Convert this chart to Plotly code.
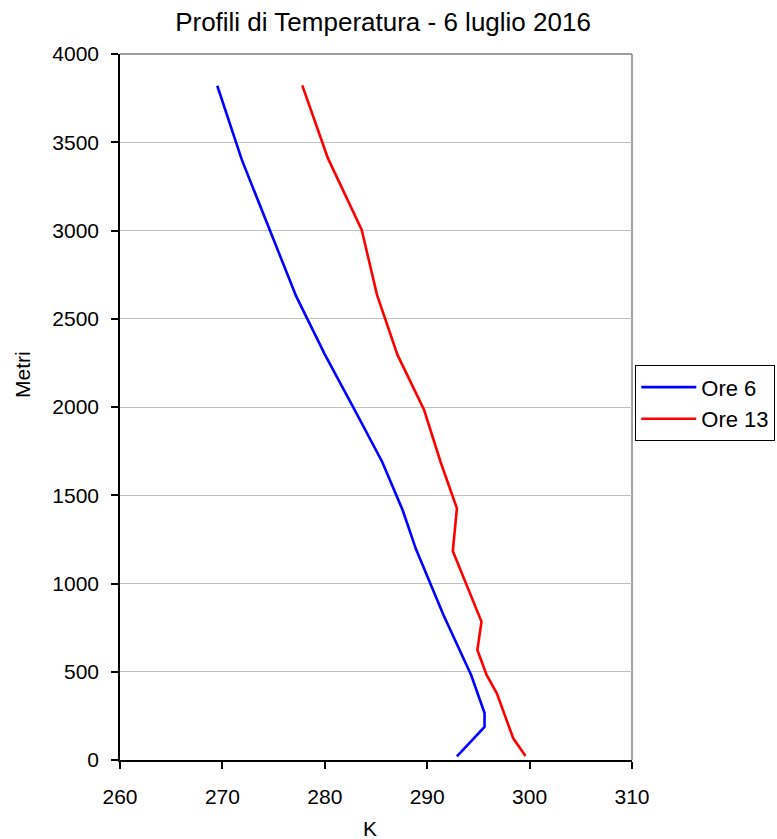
import plotly.graph_objects as go

# Temperature profiles (K) versus height (m), 6 July 2016
ore6_quota = [20, 187, 266, 480, 820, 1195, 1416, 1690, 1985, 2298, 2628, 3005, 3400, 3820]
ore6_temp = [292.9, 295.6, 295.6, 294.3, 291.6, 288.9, 287.6, 285.6, 282.9, 280.0, 277.2, 274.6, 271.9, 269.5]

ore13_quota = [23, 75, 123, 378, 482, 623, 784, 1184, 1426, 1690, 1983, 2295, 2635, 3005, 3410, 3822]
ore13_temp = [299.6, 299.0, 298.4, 296.8, 295.8, 294.9, 295.3, 292.5, 292.9, 291.3, 289.7, 287.1, 285.1, 283.6, 280.3, 277.8]

series_names = ["Ore 6", "Ore 13"]
series_colors = ["#0000ff", "#ff0000"]

x_ticks = [260, 270, 280, 290, 300, 310]
y_ticks = [0, 500, 1000, 1500, 2000, 2500, 3000, 3500, 4000]

W, H = 777, 839
L, R, T, B = 120, 145, 54, 79

FONT = "Liberation Sans, Arial, sans-serif"

fig = go.Figure()
for name, xs, ys, col in zip(series_names, [ore6_temp, ore13_temp],
                             [ore6_quota, ore13_quota], series_colors):
    fig.add_trace(go.Scatter(x=xs, y=ys, mode="lines", name=name,
                             line=dict(color=col, width=2.6)))

fig.update_layout(
    width=W, height=H,
    margin=dict(l=L, r=R, t=T, b=B, autoexpand=False),
    paper_bgcolor="white", plot_bgcolor="white",
    font=dict(family=FONT, color="black", size=21),
    title=dict(text="Profili di Temperatura - 6 luglio 2016",
               x=383 / W, xanchor="center", xref="container",
               y=1 - 22 / H, yanchor="middle", yref="container",
               font=dict(size=26, family=FONT)),
    legend=dict(x=(635 - L) / (W - L - R), xanchor="left",
                y=(H - B - 365) / (H - T - B), yanchor="top",
                bordercolor="black", borderwidth=1.3, bgcolor="white",
                font=dict(size=22, family=FONT),
                itemwidth=55),
    showlegend=True,
)

fig.update_xaxes(range=[260, 310], tickvals=x_ticks, ticktext=[str(v) for v in x_ticks],
                 showgrid=False, zeroline=False,
                 showline=True, linecolor="black", linewidth=1.5,
                 ticks="outside", ticklen=7, tickwidth=1.5, tickcolor="black",
                 ticklabelstandoff=10,
                 tickfont=dict(size=21, family=FONT))
fig.update_yaxes(range=[0, 4000], tickvals=y_ticks, ticktext=[str(v) for v in y_ticks],
                 showgrid=True, gridcolor="#c0c0c0", gridwidth=1.3, zeroline=False,
                 showline=True, linecolor="black", linewidth=1.5,
                 ticks="outside", ticklen=7, tickwidth=1.5, tickcolor="black",
                 ticklabelstandoff=8,
                 tickfont=dict(size=21, family=FONT))

# Grey frame on the top and right sides of the plot area
fig.add_shape(type="line", xref="paper", yref="paper", x0=0, x1=1, y0=1, y1=1,
              line=dict(color="#808080", width=1.5), layer="below")
fig.add_shape(type="line", xref="paper", yref="paper", x0=1, x1=1, y0=0, y1=1,
              line=dict(color="#808080", width=1.5), layer="below")

# Axis titles
fig.add_annotation(text="K", xref="paper", yref="paper",
                   x=(370 - L) / (W - L - R), y=-(828 - (H - B)) / (H - T - B),
                   showarrow=False, font=dict(size=21, family=FONT),
                   xanchor="center", yanchor="middle")
fig.add_annotation(text="Metri", xref="paper", yref="paper", textangle=-90,
                   x=-(L - 22) / (W - L - R), y=(H - B - 375) / (H - T - B),
                   showarrow=False, font=dict(size=21, family=FONT),
                   xanchor="center", yanchor="middle")

fig.write_html("out.html")
